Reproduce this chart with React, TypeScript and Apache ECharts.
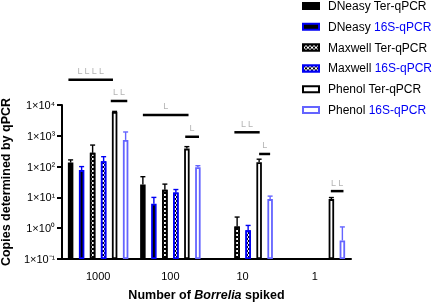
import React, { useEffect, useRef } from 'react';
import * as echarts from 'echarts';

const categories = ['1000', '100', '10', '1'];
const seriesNames = [
  'DNeasy Ter-qPCR',
  'DNeasy 16S-qPCR',
  'Maxwell Ter-qPCR',
  'Maxwell 16S-qPCR',
  'Phenol Ter-qPCR',
  'Phenol 16S-qPCR',
];

// bar means (null = not detected)
const dneasyTer = [135, 26, null, null];
const dneasy16S = [77, 6.2, null, null];
const maxwellTer = [280, 17.6, 1.14, null];
const maxwell16S = [150, 14.4, 0.85, null];
const phenolTer = [5900, 384, 139, 8.8];
const phenol16S = [735, 96, 8.8, 0.4];

// upper ends of the error bars
const dneasyTerErr = [165, 47, null, null];
const dneasy16SErr = [100, 10, null, null];
const maxwellTerErr = [500, 27, 2.3, null];
const maxwell16SErr = [210, 18, 1.23, null];
const phenolTerErr = [6200, 445, 174, 9.9];
const phenol16SErr = [1330, 107, 11, 1.1];

// significance brackets
const bracketCat = [0, 0, 1, 1, 2, 2, 3];
const bracketFrom = [-0.2, 3.65, 0, 3.85, 1.75, 4, 3.95];
const bracketTo = [3.85, 5.15, 4.15, 5.1, 4.05, 5, 5.1];
const bracketY = [66000, 13500, 4750, 930, 1300, 257, 16];
const bracketMarks = ['L L L L', 'L L', 'L', 'L', 'L L', 'L', 'L L'];

const BLUE = '#0000f5';
const LIGHT_BLUE = '#6464ff';
const FONT = "'Liberation Sans', Arial, Helvetica, sans-serif";
const BAR_W = 5.5;
const SLOT = 11;

const values = [dneasyTer, dneasy16S, maxwellTer, maxwell16S, phenolTer, phenol16S];
const errs = [dneasyTerErr, dneasy16SErr, maxwellTerErr, maxwell16SErr, phenolTerErr, phenol16SErr];
const borderColors = ['#000', BLUE, '#000', BLUE, '#000', LIGHT_BLUE];
const fillColors = ['#000', '#000', '#000', '#000', '#fff', '#fff'];
const checker = {
  symbol: 'rect',
  symbolSize: 1,
  color: '#fff',
  dashArrayX: [[2, 2], [0, 2, 2, 0]],
  dashArrayY: [2, 0],
  rotation: 0,
};

const supers: Record<string, string> = { '-': '⁻', '0': '⁰', '1': '¹', '2': '²', '3': '³', '4': '⁴' };

export default function App() {
  const ref = useRef<HTMLDivElement>(null);
  useEffect(() => {
    const chart = echarts.init(ref.current!, null, { renderer: 'svg' });

    const barSeries = seriesNames.map((name, s) => ({
      name,
      type: 'bar',
      data: values[s],
      barWidth: BAR_W,
      barGap: '100%',
      itemStyle: {
        color: fillColors[s],
        borderColor: borderColors[s],
        borderWidth: 1.8,
        decal: s === 2 || s === 3 ? checker : undefined,
      },
      emphasis: { disabled: true },
    }));

    const errData: number[][] = [];
    values.forEach((vals, s) => {
      vals.forEach((v, i) => {
        if (v != null && errs[s][i] != null) errData.push([i, s, errs[s][i] as number, v]);
      });
    });

    const bracketData = bracketCat.map((c, i) => [c, bracketFrom[i], bracketTo[i], bracketY[i]]);

    chart.setOption({
      animation: false,
      textStyle: { fontFamily: FONT },
      grid: { left: 62, right: 89, top: 105, bottom: 43, containLabel: false, outerBoundsMode: 'none' },
      legend: {
        data: seriesNames,
        orient: 'vertical',
        left: 302,
        top: -1,
        padding: 0,
        itemWidth: 16,
        itemHeight: 6,
        itemGap: 6.8,
        icon: 'rect',
        selectedMode: false,
        formatter: (name: string) => {
          const [method, rest] = [name.split(' ')[0], name.split(' ')[1]];
          return rest.startsWith('16S')
            ? `{k|${method}} {b|${rest}}`
            : `{k|${method} ${rest}}`;
        },
        textStyle: {
          fontSize: 12,
          lineHeight: 14,
          padding: [0, 0, 0, 4],
          rich: {
            k: { fontSize: 12, color: '#000', fontFamily: FONT },
            b: { fontSize: 12, color: BLUE, fontFamily: FONT },
          },
        },
      },
      xAxis: {
        type: 'category',
        data: categories,
        name: '{b|Number of }{i|Borrelia}{b| spiked}',
        nameLocation: 'middle',
        nameGap: 29,
        nameTextStyle: {
          rich: {
            b: { fontSize: 12.5, fontWeight: 'bold', color: '#000', fontFamily: FONT },
            i: { fontSize: 12.5, fontWeight: 'bold', fontStyle: 'italic', color: '#000', fontFamily: FONT },
          },
        },
        axisLine: { lineStyle: { color: '#000', width: 2 } },
        axisTick: { alignWithLabel: true, length: 5, lineStyle: { color: '#000', width: 2 } },
        axisLabel: { color: '#000', fontSize: 11, margin: 11 },
      },
      yAxis: {
        type: 'log',
        logBase: 10,
        min: 0.1,
        max: 10000,
        startValue: 0.1,
        interval: 1,
        name: 'Copies determined by qPCR',
        nameLocation: 'middle',
        nameRotate: 90,
        nameGap: 48,
        nameTextStyle: { fontSize: 12.5, fontWeight: 'bold', color: '#000' },
        splitLine: { show: false },
        minorTick: { show: false },
        axisLine: { show: true, lineStyle: { color: '#000', width: 2 } },
        axisTick: { show: true, length: 5, lineStyle: { color: '#000', width: 2 } },
        axisLabel: {
          color: '#000',
          margin: 7,
          formatter: (v: number) => {
            const e = String(Math.round(Math.log10(v)));
            const sup = e.split('').map((ch) => supers[ch] || ch).join('');
            return `{a|1×10}{s|${sup}}`;
          },
          rich: {
            a: { fontSize: 11, color: '#000', fontFamily: FONT, lineHeight: 12 },
            s: { fontSize: 10, color: '#000', fontFamily: FONT, lineHeight: 10, verticalAlign: 'top' },
          },
        },
      },
      series: [
        ...barSeries,
        {
          type: 'custom',
          name: 'err',
          z: 3,
          clip: false,
          silent: true,
          encode: { x: 0, y: 2 },
          data: errData,
          renderItem: (params: any, api: any) => {
            const cat = api.value(0);
            const slot = api.value(1);
            const top = api.coord([cat, api.value(2)]);
            const base = api.coord([cat, api.value(3)]);
            const x = top[0] + (slot - 2.5) * SLOT;
            const stroke = borderColors[slot];
            return {
              type: 'group',
              children: [
                { type: 'line', shape: { x1: x, y1: base[1], x2: x, y2: top[1] }, style: { stroke, lineWidth: 1.4 } },
                { type: 'line', shape: { x1: x - 2.5, y1: top[1], x2: x + 2.5, y2: top[1] }, style: { stroke, lineWidth: 1.4 } },
              ],
            };
          },
        },
        {
          type: 'custom',
          name: 'brackets',
          z: 3,
          clip: false,
          silent: true,
          encode: { x: 0, y: 3 },
          data: bracketData,
          renderItem: (params: any, api: any) => {
            const c = api.coord([api.value(0), api.value(3)]);
            const x1 = c[0] + (api.value(1) - 2.5) * SLOT;
            const x2 = c[0] + (api.value(2) - 2.5) * SLOT;
            return {
              type: 'group',
              children: [
                { type: 'line', shape: { x1, y1: c[1], x2, y2: c[1] }, style: { stroke: '#000', lineWidth: 2.5 } },
                {
                  type: 'text',
                  x: (x1 + x2) / 2,
                  y: c[1] - 8.5,
                  style: {
                    text: bracketMarks[params.dataIndex],
                    fill: '#b4b4b4',
                    font: `9px ${FONT}`,
                    align: 'center',
                    verticalAlign: 'middle',
                  },
                },
              ],
            };
          },
        },
      ],
    });
    return () => chart.dispose();
  }, []);
  return <div ref={ref} style={{ position: 'fixed', left: 0, top: 0, width: 440, height: 302 }} />;
}
